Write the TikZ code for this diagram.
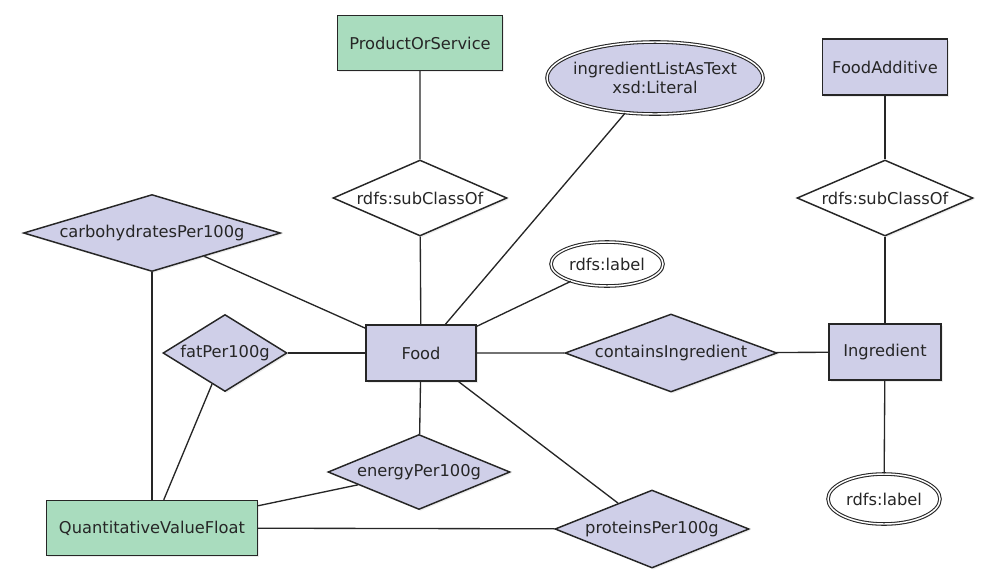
\documentclass[tikz,border=0pt]{standalone}
\usepackage{fontspec}
\setmainfont{DejaVu Sans}
\usetikzlibrary{shapes.geometric,shadows}
\definecolor{lav}{HTML}{CFCFE8}
\definecolor{grn}{HTML}{A9DCBE}
\definecolor{ink}{HTML}{262626}
\begin{document}
\begin{tikzpicture}[x=0.75pt,y=-0.75pt,
  font=\fontsize{12.2}{14}\selectfont, text=ink,
  base/.style={draw=ink, line width=1.1pt, inner sep=0pt,
    drop shadow={opacity=0.15,shadow xshift=1.2pt,shadow yshift=-1.2pt}},
  cls/.style={base, rectangle, fill=lav},
  gcls/.style={base, rectangle, fill=grn},
  prop/.style={base, diamond, fill=lav},
  subp/.style={base, diamond, fill=white},
  lit/.style={base, ellipse, fill=lav, line width=0.8pt, double=white, double distance=1.1pt},
  lbl/.style={base, ellipse, fill=white, line width=0.8pt, double=white, double distance=1.1pt},
  edge/.style={draw=ink, line width=1pt}]
\path[use as bounding box] (0,0) rectangle (992,572);

\node[gcls, minimum width=123.75pt, minimum height=41.25pt] (pos) at (420,43) {ProductOrService};
\node[lit, minimum width=162pt, minimum height=54pt,
  label={[align=center]center:{ingredientListAsText\\xsd:Literal}}] (ilt) at (655,78) {};
\node[cls, minimum width=93.75pt, minimum height=42pt] (fa) at (885,67) {FoodAdditive};
\node[subp, minimum width=130.5pt, minimum height=57pt, label={center:{rdfs:subClassOf}}] (sub1) at (420,198) {};
\node[subp, minimum width=132pt, minimum height=57pt, label={center:{rdfs:subClassOf}}] (sub2) at (885,198) {};
\node[prop, minimum width=192.75pt, minimum height=57.75pt, label={center:{carbohydratesPer100g}}] (carb) at (152,233) {};
\node[lbl, minimum width=84pt, minimum height=33pt, label={center:{rdfs:label}}] (lab1) at (607,264) {};
\node[prop, minimum width=93pt, minimum height=57.75pt, label={center:{fatPer100g}}] (fat) at (225,353) {};
\node[cls, minimum width=82.5pt, minimum height=42pt] (food) at (421,353) {Food};
\node[prop, minimum width=159pt, minimum height=58.5pt, label={center:{containsIngredient}}] (cont) at (671,353) {};
\node[cls, minimum width=84pt, minimum height=42pt] (ingr) at (885,352) {Ingredient};
\node[lbl, minimum width=84pt, minimum height=37.5pt, label={center:{rdfs:label}}] (lab2) at (884,499) {};
\node[prop, minimum width=136.5pt, minimum height=56.25pt, label={center:{energyPer100g}}] (energy) at (419,472) {};
\node[gcls, minimum width=158.25pt, minimum height=41.25pt] (qvf) at (152,528) {QuantitativeValueFloat};
\node[prop, minimum width=145.5pt, minimum height=58.5pt, label={center:{proteinsPer100g}}] (prot) at (652,529) {};

\draw[edge] (pos) -- (sub1) -- (food);
\draw[edge] (fa) -- (sub2) -- (ingr);
\draw[edge] (food) -- (ilt);
\draw[edge] (food) -- (lab1);
\draw[edge] (food) -- (carb);
\draw[edge] (food) -- (fat);
\draw[edge] (food) -- (cont) -- (ingr);
\draw[edge] (ingr) -- (lab2);
\draw[edge] (food) -- (energy);
\draw[edge] (food) -- (prot);
\draw[edge] (carb) -- (qvf);
\draw[edge] (fat) -- (qvf);
\draw[edge] (energy) -- (qvf);
\draw[edge] (prot) -- (qvf);
\end{tikzpicture}
\end{document}
